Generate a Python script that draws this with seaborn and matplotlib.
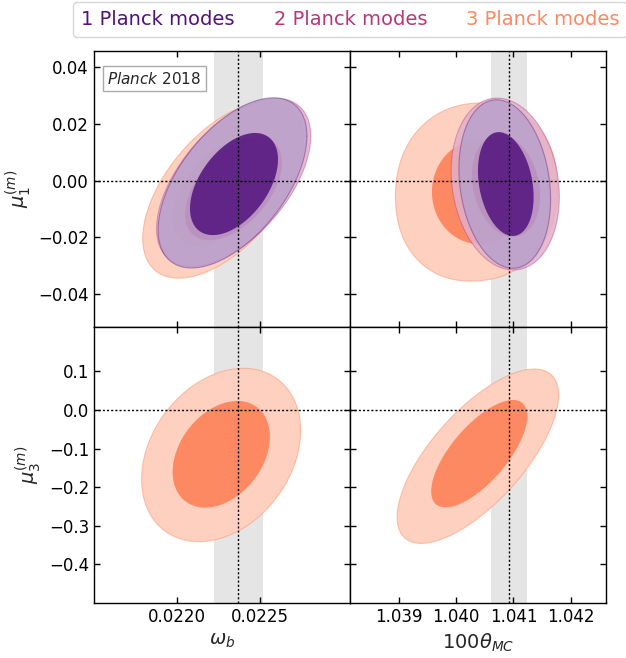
import numpy as np
import matplotlib
matplotlib.use("Agg")
import matplotlib.pyplot as plt
from matplotlib.lines import Line2D
from matplotlib.colors import to_hex
import seaborn as sns

# ---------------- data ----------------
modes = ["1 Planck modes", "2 Planck modes", "3 Planck modes"]

# Planck 2018 reference values (mean, 1 sigma)
planck_wb = 0.02237
planck_wb_err = 0.00015
planck_th = 1.04092
planck_th_err = 0.00031

# axis ranges
xlim_wb = (0.021496, 0.023044)
xlim_th = (1.03814, 1.04262)
ylim_mu1 = (-0.0516, 0.0457)
ylim_mu3 = (-0.50, 0.215)

# tick values and labels
xticks_wb = [0.0220, 0.0225]
xticklabels_wb = ["0.0220", "0.0225"]
xticks_th = [1.039, 1.040, 1.041, 1.042]
xticklabels_th = ["1.039", "1.040", "1.041", "1.042"]
yticks_mu1 = [0.04, 0.02, 0.00, -0.02, -0.04]
yticklabels_mu1 = ["0.04", "0.02", "0.00", "\u22120.02", "\u22120.04"]
yticks_mu3 = [0.1, 0.0, -0.1, -0.2, -0.3, -0.4]
yticklabels_mu3 = ["0.1", "0.0", "\u22120.1", "\u22120.2", "\u22120.3", "\u22120.4"]

# contour regions:
# (centre_x, centre_y, half_width_x, half_height_y, correlation[, roundness])
# outer = 95% region, inner = 68% region, keyed by number of Planck modes
wb_mu1_outer = {3: (0.022275, -0.0033, 0.000484, 0.0311, 0.55),
                2: (0.022341, -0.0006, 0.000466, 0.0296, 0.55),
                1: (0.022334, -0.0008, 0.000450, 0.0300, 0.55)}
wb_mu1_inner = {3: (0.022266, -0.0040, 0.000295, 0.0190, 0.50),
                2: (0.022340, -0.0028, 0.000293, 0.0182, 0.50),
                1: (0.022343, -0.0012, 0.000266, 0.0180, 0.48)}

th_mu1_outer = {3: (1.040356, -0.0040, 0.001419, 0.0314, 0.05, 0.92),
                2: (1.040858, -0.0012, 0.000946, 0.0303, -0.15),
                1: (1.040849, -0.0012, 0.000802, 0.0297, -0.18)}
th_mu1_inner = {3: (1.040410, -0.0040, 0.000835, 0.0184, 0.00),
                2: (1.040872, -0.0018, 0.000596, 0.0180, -0.20),
                1: (1.040867, -0.0012, 0.000487, 0.0183, -0.25)}

wb_mu3_outer = {3: (0.022265, -0.1166, 0.000481, 0.2246, 0.28)}
wb_mu3_inner = {3: (0.022266, -0.1148, 0.000294, 0.1381, 0.33)}

th_mu3_outer = {3: (1.040378, -0.1197, 0.001413, 0.2259, 0.70)}
th_mu3_inner = {3: (1.040403, -0.1132, 0.000841, 0.1391, 0.70)}

# ---------------- style ----------------
sns.set_style("ticks")
plt.rcParams["font.family"] = ["DejaVu Sans"]
plt.rcParams["mathtext.fontset"] = "dejavusans"
palette = sns.color_palette("magma", 3)
mode_color = {i + 1: palette[i] for i in range(3)}


def region(cx, cy, sx, sy, rho, p=1.0, n=400):
    t = np.linspace(0, 2 * np.pi, n)
    c = np.sign(np.cos(t)) * np.abs(np.cos(t)) ** p
    s = np.sign(np.sin(t)) * np.abs(np.sin(t)) ** p
    x = cx + sx * c
    y = cy + sy * (rho * c + np.sqrt(1 - rho ** 2) * s)
    return x, y


def pale(c, f=0.6):
    return tuple(v * (1 - f) + f for v in c)


def draw_panel(ax, outer, inner, xref, xerr):
    ax.axvspan(xref - xerr, xref + xerr, color="#e5e5e5", lw=0, zorder=0)
    order = sorted(outer.keys(), reverse=True)
    for k, m in enumerate(order):
        alpha = 1.0 if k == 0 else 0.85
        col = mode_color[m]
        xo, yo = region(*outer[m])
        ax.fill(xo, yo, color=pale(col), alpha=alpha, lw=0, zorder=2 + k)
        ax.plot(xo, yo, color=col, alpha=0.45 * alpha, lw=0.8, zorder=2 + k)
        xi, yi = region(*inner[m])
        ax.fill(xi, yi, color=col, alpha=alpha, lw=0, zorder=2 + k)
    ax.axvline(xref, color="k", ls=(0, (1.5, 1.5)), lw=1.0, zorder=10)
    ax.axhline(0.0, color="k", ls=(0, (1.5, 1.5)), lw=1.0, zorder=10)


fig, axes = plt.subplots(2, 2, figsize=(6.26, 6.58), dpi=100)
fig.subplots_adjust(left=0.150, right=0.968, top=0.9225, bottom=0.0836,
                    wspace=0, hspace=0)

draw_panel(axes[0, 0], wb_mu1_outer, wb_mu1_inner, planck_wb, planck_wb_err)
draw_panel(axes[0, 1], th_mu1_outer, th_mu1_inner, planck_th, planck_th_err)
draw_panel(axes[1, 0], wb_mu3_outer, wb_mu3_inner, planck_wb, planck_wb_err)
draw_panel(axes[1, 1], th_mu3_outer, th_mu3_inner, planck_th, planck_th_err)

for r in range(2):
    for c in range(2):
        ax = axes[r, c]
        ax.set_xlim(xlim_wb if c == 0 else xlim_th)
        ax.set_ylim(ylim_mu1 if r == 0 else ylim_mu3)
        if c == 0:
            ax.set_xticks(xticks_wb, xticklabels_wb)
        else:
            ax.set_xticks(xticks_th, xticklabels_th)
        if r == 0:
            ax.set_yticks(yticks_mu1, yticklabels_mu1)
        else:
            ax.set_yticks(yticks_mu3, yticklabels_mu3)
        ax.tick_params(direction="in", top=True, right=True, length=4,
                       width=1, labelsize=12, colors="k",
                       labelbottom=(r == 1), labelleft=(c == 0))
        for s in ax.spines.values():
            s.set_color("k")
            s.set_linewidth(1.0)
            s.set_zorder(20)

axes[1, 0].set_xlabel(r"$\omega_b$", fontsize=14)
axes[1, 1].set_xlabel(r"$100\theta_{MC}$", fontsize=14)
axes[0, 0].set_ylabel(r"$\mu_1^{(m)}$", fontsize=14)
axes[1, 0].set_ylabel(r"$\mu_3^{(m)}$", fontsize=14)

axes[0, 0].text(0.053, 0.929, r"$\it{Planck}$ 2018", transform=axes[0, 0].transAxes,
                ha="left", va="top", fontsize=11, zorder=30,
                bbox=dict(boxstyle="square,pad=0.3", fc="white", ec="#aaaaaa", lw=1))

handles = [Line2D([], [], lw=0) for _ in modes]
leg = fig.legend(handles, modes, loc="upper center", bbox_to_anchor=(0.5597, 0.997),
                 ncol=3, fontsize=14, handlelength=0, handletextpad=0,
                 columnspacing=2.0, frameon=True, fancybox=True,
                 edgecolor="#cccccc", borderpad=0.4, borderaxespad=0.0,
                 labelcolor=[to_hex(c) for c in palette])

fig.savefig("out.png", dpi=100)
